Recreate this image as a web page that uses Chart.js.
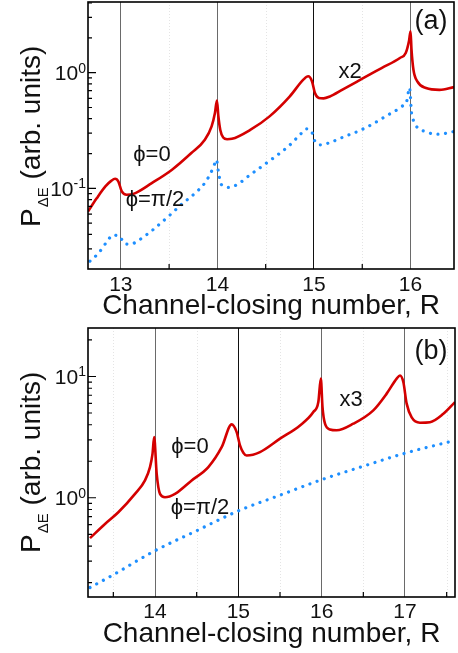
<!DOCTYPE html>
<html>
<head>
<meta charset="utf-8">
<script src="https://cdn.jsdelivr.net/npm/chart.js@4.4.1/dist/chart.umd.min.js"></script>
<style>
  html, body { margin: 0; padding: 0; background: #fff; }
  #wrap { position: relative; width: 458px; height: 653px; }
  canvas { position: absolute; left: 0; }
</style>
</head>
<body>
<div id="wrap">
  <canvas id="chartA" width="458" height="320" style="top:0"></canvas>
  <canvas id="chartB" width="458" height="333" style="top:320px"></canvas>
</div>
<script>
// panel (a): phi = 0 (solid red, x2) and phi = pi/2 (dotted blue)
const ticksA = [13, 14, 15, 16];
const redA_R = [12.66, 12.75, 12.84, 12.9, 12.94, 12.975, 13.01, 13.06, 13.13, 13.32, 13.53, 13.73, 13.87, 13.94, 13.975, 13.995,
  14.01, 14.03, 14.06, 14.1, 14.15, 14.34, 14.54, 14.75, 14.89, 14.94, 14.98, 15.01, 15.05, 15.1, 15.16, 15.3, 15.5, 15.7,
  15.89, 15.95, 15.985, 16.0, 16.01, 16.03, 16.07, 16.16, 16.3, 16.45];
const redA_P = [0.063, 0.082, 0.104, 0.116, 0.121, 0.1145, 0.094, 0.088, 0.0896, 0.111, 0.145, 0.202, 0.263, 0.343, 0.45, 0.575,
  0.42, 0.32, 0.275, 0.266, 0.268, 0.32, 0.419, 0.624, 0.87, 0.93, 0.84, 0.667, 0.605, 0.6, 0.62, 0.718, 0.887, 1.096,
  1.34, 1.48, 1.9, 2.28, 1.58, 1.06, 0.84, 0.736, 0.71, 0.75];
const blueA_R = [12.68, 12.77, 12.86, 12.92, 12.96, 13.0, 13.03, 13.1, 13.18, 13.32, 13.51, 13.63, 13.77, 13.88, 13.96, 13.99,
  14.01, 14.04, 14.13, 14.22, 14.34, 14.54, 14.74, 14.86, 14.92, 14.98, 15.0, 15.07, 15.15, 15.3, 15.47, 15.61, 15.77, 15.91,
  15.96, 15.99, 16.01, 16.03, 16.07, 16.15, 16.23, 16.31, 16.4, 16.45];
const blueA_P = [0.0235, 0.0276, 0.035, 0.0396, 0.039, 0.0375, 0.0335, 0.0329, 0.0354, 0.043, 0.059, 0.073, 0.091, 0.1145, 0.153, 0.177,
  0.14, 0.108, 0.102, 0.11, 0.131, 0.173, 0.233, 0.294, 0.327, 0.304, 0.265, 0.238, 0.246, 0.277, 0.315, 0.361, 0.433, 0.511,
  0.565, 0.74, 0.45, 0.386, 0.336, 0.31, 0.296, 0.294, 0.304, 0.31];

// panel (b): phi = 0 (solid red, x3) and phi = pi/2 (dotted blue)
const ticksB = [14, 15, 16, 17];
const redB_R = [13.22, 13.4, 13.56, 13.76, 13.88, 13.94, 13.97, 13.99, 14.02, 14.06, 14.12, 14.24, 14.44, 14.64, 14.8, 14.92, 14.98,
  15.02, 15.06, 15.1, 15.26, 15.5, 15.74, 15.9, 15.96, 15.99, 16.01, 16.04, 16.1, 16.18, 16.38, 16.62, 16.78, 16.9, 16.94, 16.98,
  17.02, 17.08, 17.18, 17.3, 17.46, 17.6];
const redB_P = [0.465, 0.608, 0.759, 1.077, 1.39, 1.79, 2.3, 3.16, 1.58, 1.077, 1.01, 1.077, 1.39, 1.79, 2.61, 4.03, 3.48,
  2.7, 2.35, 2.23, 2.38, 3.07, 3.95, 5.09, 6.15, 9.6, 5.6, 4.08, 3.66, 3.6, 4.08, 5.26, 7.22, 9.6, 10.2, 9.0,
  5.97, 4.6, 4.16, 4.2, 4.93, 6.15];
const blueB_R = [13.22, 13.5, 14.0, 14.5, 15.0, 15.5, 16.0, 16.5, 17.0, 17.6];
const blueB_P = [0.182, 0.232, 0.366, 0.535, 0.78, 1.05, 1.41, 1.82, 2.33, 2.97];

const FONT = "'Liberation Sans', Arial, Helvetica, sans-serif";
const RED = '#d40000';
const BLUE = '#1e8fff';

function pts(xs, ys) {
  return xs.map((x, i) => ({ x: x, y: ys[i] }));
}

// inward ticks, frame, 10^n labels, y title with subscript, notes
const decor = {
  id: 'decor',
  beforeDatasetsDraw(chart) {
    const { ctx, chartArea: a, scales: { x } } = chart;
    ctx.save();
    ctx.strokeStyle = '#e4e4e4';
    ctx.lineWidth = 1;
    ctx.setLineDash([1, 2]);
    for (let v = Math.ceil(x.min * 2) / 2; v <= x.max; v += 0.5) {
      if (Number.isInteger(v)) continue;
      const px = Math.round(x.getPixelForValue(v)) + 0.5;
      ctx.beginPath();
      ctx.moveTo(px, a.top);
      ctx.lineTo(px, a.bottom);
      ctx.stroke();
    }
    ctx.restore();
  },
  afterDraw(chart, args, o) {
    const { ctx, chartArea: a, scales: { x, y } } = chart;
    ctx.save();
    ctx.strokeStyle = '#000';
    ctx.lineWidth = 1.2;
    ctx.beginPath();
    for (let v = Math.ceil(x.min * 2) / 2; v <= x.max; v += 0.5) {
      if (Number.isInteger(v)) continue;
      const px = x.getPixelForValue(v);
      ctx.moveTo(px, a.bottom);
      ctx.lineTo(px, a.bottom - 5);
    }
    const d0 = Math.floor(Math.log10(y.min)), d1 = Math.ceil(Math.log10(y.max));
    for (let d = d0; d <= d1; d++) {
      for (let m = 1; m < 10; m++) {
        const v = m * Math.pow(10, d);
        if (v < y.min || v > y.max) continue;
        const py = y.getPixelForValue(v);
        ctx.moveTo(a.left, py);
        ctx.lineTo(a.left + (m === 1 ? 8 : 4), py);
      }
    }
    ctx.stroke();

    ctx.lineWidth = 1.6;
    ctx.strokeRect(a.left, a.top, a.right - a.left, a.bottom - a.top);

    // decade labels
    ctx.fillStyle = '#111';
    ctx.textAlign = 'left';
    ctx.textBaseline = 'alphabetic';
    for (let d = d0; d <= d1; d++) {
      const v = Math.pow(10, d);
      if (v < y.min || v > y.max) continue;
      const py = y.getPixelForValue(v);
      const sup = String(d);
      ctx.font = '14px ' + FONT;
      const sw = ctx.measureText(sup).width;
      ctx.font = '21px ' + FONT;
      const mw = ctx.measureText('10').width;
      const x0 = a.left - 2 - sw - mw;
      ctx.fillText('10', x0, py + 7.5);
      ctx.font = '14px ' + FONT;
      ctx.fillText(sup, x0 + mw, py);
    }

    // y title: P_ΔE (arb. units)
    ctx.translate(o.titleX, o.titleY);
    ctx.rotate(-Math.PI / 2);
    ctx.font = '28px ' + FONT;
    ctx.fillText('P', 0, 0);
    const pw = ctx.measureText('P').width;
    ctx.font = '15px ' + FONT;
    ctx.fillText('\u0394E', pw + 1, 8);
    const sw2 = ctx.measureText('\u0394E').width;
    ctx.font = '28px ' + FONT;
    ctx.fillText(' (arb. units)', pw + sw2 + 1, 0);
    ctx.setTransform(chart.currentDevicePixelRatio, 0, 0, chart.currentDevicePixelRatio, 0, 0);

    ctx.textAlign = 'center';
    ctx.textBaseline = 'middle';
    o.notes.forEach(n => {
      ctx.font = n.size + 'px ' + FONT;
      ctx.fillText(n.text, n.x, n.y);
    });
    ctx.restore();
  }
};

function makeChart(id, c) {
  return new Chart(document.getElementById(id), {
    type: 'line',
    data: {
      datasets: [
        { data: pts(c.redR, c.redP), borderColor: RED, borderWidth: 2.6, pointRadius: 0,
          cubicInterpolationMode: 'monotone', fill: false },
        { data: pts(c.blueR, c.blueP), borderColor: BLUE, borderWidth: 3.2, pointRadius: 0,
          borderDash: [0.01, 7.6], borderCapStyle: 'round', cubicInterpolationMode: 'monotone', fill: false }
      ]
    },
    options: {
      responsive: false,
      animation: false,
      layout: { padding: { left: 0, right: c.padRight, top: c.padTop, bottom: 0 } },
      plugins: {
        legend: { display: false },
        tooltip: { enabled: false },
        decor: { titleX: 40, titleY: c.titleY, notes: c.notes }
      },
      scales: {
        x: {
          type: 'linear',
          min: c.xMin,
          max: c.xMax,
          afterBuildTicks: s => { s.ticks = c.ticks.map(v => ({ value: v })); },
          afterFit: s => { s.height = c.xHeight; },
          border: { display: false },
          grid: {
            drawTicks: false,
            lineWidth: 1,
            color: ctx => (ctx.tick && ctx.tick.value === 15) ? '#111' : '#6a6a6a'
          },
          ticks: { autoSkip: false, maxRotation: 0, padding: c.tickPad, color: '#111',
                   font: { family: FONT, size: 21 } },
          title: { display: true, text: 'Channel-closing number, R', color: '#111',
                   font: { family: FONT, size: 28, lineHeight: 1 },
                   padding: { top: 0, bottom: c.titlePad } }
        },
        y: {
          type: 'logarithmic',
          min: c.yMin,
          max: c.yMax,
          afterFit: s => { s.width = 88; },
          border: { display: false },
          grid: { display: false },
          ticks: { display: false }
        }
      }
    },
    plugins: [decor]
  });
}

makeChart('chartA', {
  ticks: ticksA,
  redR: redA_R, redP: redA_P, blueR: blueA_R, blueP: blueA_P,
  xMin: 12.66, xMax: 16.45, yMin: 0.0201, yMax: 4.08,
  padTop: 2, padRight: 4, xHeight: 51, tickPad: 4, titlePad: 0, titleY: 227,
  notes: [
    { text: '(a)', x: 431, y: 22, size: 27 },
    { text: 'x2', x: 350, y: 72, size: 22 },
    { text: '\u03D5=0', x: 152, y: 155, size: 22 },
    { text: '\u03D5=\u03C0/2', x: 155, y: 200, size: 22 }
  ]
});

makeChart('chartB', {
  ticks: ticksB,
  redR: redB_R, redP: redB_P, blueR: blueB_R, blueP: blueB_P,
  xMin: 13.196, xMax: 17.6, yMin: 0.152, yMax: 25.1,
  padTop: 8, padRight: 3, xHeight: 56, tickPad: 3, titlePad: 5, titleY: 233,
  notes: [
    { text: '(b)', x: 431, y: 32, size: 27 },
    { text: 'x3', x: 351, y: 80, size: 22 },
    { text: '\u03D5=0', x: 190, y: 127, size: 22 },
    { text: '\u03D5=\u03C0/2', x: 200, y: 188, size: 22 }
  ]
});
</script>
</body>
</html>
